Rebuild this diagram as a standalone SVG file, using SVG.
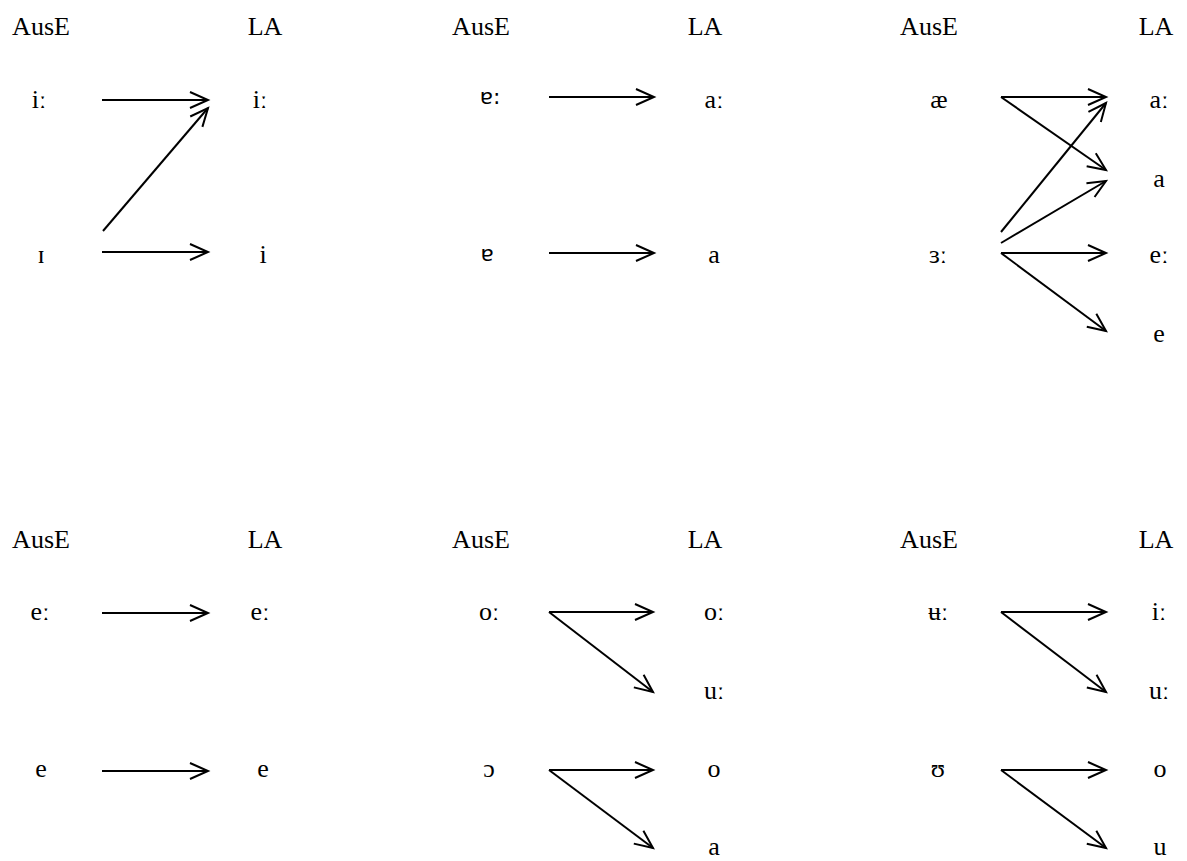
<svg xmlns="http://www.w3.org/2000/svg" width="1187" height="861" viewBox="0 0 1187 861">
<style>
text{font-family:"Liberation Serif","DejaVu Serif","Times New Roman",serif;font-size:26px;fill:#000;text-anchor:middle}
.alt{font-family:"DejaVu Sans","Liberation Sans",sans-serif;font-size:22px}
.c line{stroke:#000;stroke-width:2;marker-end:url(#ah)}
</style>
<defs>
<marker id="ah" markerUnits="userSpaceOnUse" markerWidth="24" markerHeight="20" refX="20" refY="9" orient="auto" overflow="visible">
<path d="M2,1 L20,9 L2,17" fill="none" stroke="#000" stroke-width="2"/>
</marker>
</defs>
<rect width="1187" height="861" fill="#fff"/>
<g id="headers">
<text x="41" y="35">AusE</text><text x="265" y="35">LA</text>
<text x="481" y="35">AusE</text><text x="705" y="35">LA</text>
<text x="929" y="35">AusE</text><text x="1156" y="35">LA</text>
<text x="41" y="548">AusE</text><text x="265" y="548">LA</text>
<text x="481" y="548">AusE</text><text x="705" y="548">LA</text>
<text x="929" y="548">AusE</text><text x="1156" y="548">LA</text>
</g>
<g id="panel1">
<text x="39" y="108">iː</text><text x="41" y="263">ɪ</text>
<text x="260" y="108">iː</text><text x="263" y="263">i</text>
</g>
<g id="panel2">
<text class="alt" x="490" y="104">ɐ:</text><text class="alt" x="487" y="261">ɐ</text>
<text x="714" y="108">aː</text><text x="714" y="263">a</text>
</g>
<g id="panel3">
<text x="939" y="108">æ</text><text x="938" y="263">ɜː</text>
<text x="1159" y="108">aː</text><text x="1159" y="187">a</text>
<text x="1159" y="263">eː</text><text x="1159" y="342">e</text>
</g>
<g id="panel4">
<text x="40" y="620">eː</text><text x="41" y="777">e</text>
<text x="260" y="620">eː</text><text x="263" y="777">e</text>
</g>
<g id="panel5">
<text x="489" y="620">oː</text><text x="489" y="777">ɔ</text>
<text x="714" y="620">oː</text><text x="714" y="699">uː</text>
<text x="714" y="777">o</text><text x="714" y="855">a</text>
</g>
<g id="panel6">
<text x="938" y="620">ʉː</text><text x="938" y="777">ʊ</text>
<text x="1159" y="620">iː</text><text x="1159" y="699">uː</text>
<text x="1160" y="777">o</text><text x="1160" y="855">u</text>
</g>
<g id="connectors" class="c">
<line x1="102" y1="100" x2="208" y2="100"/>
<line x1="103" y1="231" x2="208" y2="108"/>
<line x1="102" y1="252" x2="208" y2="252"/>
<line x1="549" y1="97" x2="654" y2="97"/>
<line x1="549" y1="253" x2="654" y2="253"/>
<line x1="1001" y1="97" x2="1106" y2="97"/>
<line x1="1001" y1="97" x2="1106" y2="170"/>
<line x1="1001" y1="232" x2="1106" y2="103"/>
<line x1="1001" y1="243" x2="1106" y2="181"/>
<line x1="1001" y1="253" x2="1106" y2="253"/>
<line x1="1001" y1="253" x2="1106" y2="331"/>
<line x1="102" y1="613" x2="208" y2="613"/>
<line x1="102" y1="771" x2="208" y2="771"/>
<line x1="549" y1="612" x2="653" y2="612"/>
<line x1="549" y1="612" x2="653" y2="692"/>
<line x1="549" y1="770" x2="653" y2="770"/>
<line x1="549" y1="770" x2="653" y2="848"/>
<line x1="1001" y1="612" x2="1106" y2="612"/>
<line x1="1001" y1="612" x2="1106" y2="692"/>
<line x1="1001" y1="770" x2="1106" y2="770"/>
<line x1="1001" y1="770" x2="1106" y2="848"/>
</g>
</svg>
